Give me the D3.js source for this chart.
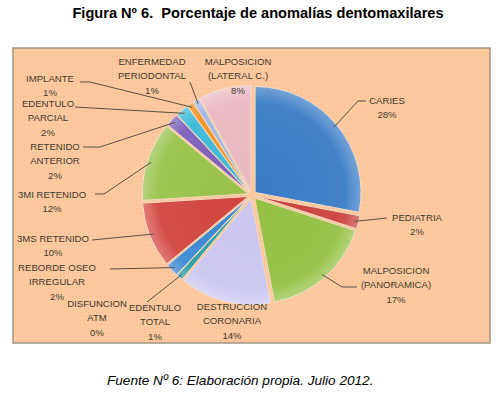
<!DOCTYPE html>
<html><head><meta charset="utf-8">
<script src="https://cdn.jsdelivr.net/npm/d3@7/dist/d3.min.js"></script>
<style>
html,body{margin:0;padding:0;background:#fff;}
svg{display:block;font-family:"Liberation Sans",Arial,sans-serif;}
text{white-space:pre;}
</style></head>
<body>
<script>
// ---- data ----
const categories = [
  ["CARIES"],
  ["PEDIATRIA"],
  ["MALPOSICION","(PANORAMICA)"],
  ["DESTRUCCION","CORONARIA"],
  ["EDENTULO","TOTAL"],
  ["DISFUNCION","ATM"],
  ["REBORDE OSEO","IRREGULAR"],
  ["3MS RETENIDO"],
  ["3MI RETENIDO"],
  ["RETENIDO","ANTERIOR"],
  ["EDENTULO","PARCIAL"],
  ["IMPLANTE"],
  ["ENFERMEDAD","PERIODONTAL"],
  ["MALPOSICION","(LATERAL C.)"]
];
const values = [28, 2, 17, 14, 1, 0, 2, 10, 12, 2, 2, 1, 1, 8];
const percentLabels = ["28%","2%","17%","14%","1%","0%","2%","10%","12%","2%","2%","1%","1%","8%"];
const colors = ["#3a7cc6","#c9433d","#93c043","#cac6f0","#2b9ea8","#4f81bd","#3a88d2","#d2453f","#97c24a","#7b5fba","#3cbad9","#f39220","#9fb8e2","#eab9c2"];

// ---- layout (label anchors & leader ends) ----
const labelLayout = [
  {x:387,y:100, line:[[358,101],[366,101]]},
  {x:417,y:217, line:[[387,218]]},
  {x:396,y:270, line:[[342,287],[357,287]]},
  {x:232,y:306, line:null},
  {x:155,y:307, line:[[147,302]]},
  {x:97, y:303, line:null},
  {x:57, y:267, line:[[110,269]]},
  {x:53, y:238, line:[[92,240]]},
  {x:52, y:194, line:[[104,194],[95,194]]},
  {x:55, y:146, line:[[100,147],[83,147]]},
  {x:48, y:103, line:[[75,107]]},
  {x:50, y:78,  line:[[90,82],[80,82]]},
  {x:152,y:61,  line:[[190,82]]},
  {x:238,y:61,  line:null}
];

const W = 503, H = 395;
const svg = d3.select("body").append("svg").attr("width", W).attr("height", H);

// title
svg.append("text").attr("x", 258).attr("y", 18).attr("text-anchor","middle")
  .attr("font-weight","bold").attr("font-size", 14.6).attr("fill","#000")
  .text("Figura Nº 6.  Porcentaje de anomalías dentomaxilares");

// chart area
const defs = svg.append("defs");
const pat = defs.append("pattern").attr("id","dots").attr("width",4).attr("height",4).attr("patternUnits","userSpaceOnUse");
pat.append("rect").attr("width",4).attr("height",4).attr("fill","#fdc99c");
pat.append("rect").attr("x",0).attr("y",0).attr("width",1).attr("height",1).attr("fill","#f4b8a8");
pat.append("rect").attr("x",2).attr("y",2).attr("width",1).attr("height",1).attr("fill","#f9d0a0");
svg.append("rect").attr("x",13).attr("y",48).attr("width",477).attr("height",295)
  .attr("fill","url(#dots)").attr("stroke","#a39483").attr("stroke-width",1.5);

// pie
const cx = 252, cy = 195, R = 106, explode = 4;
const pie = d3.pie().sort(null).value(d => d)(values);
const arc = d3.arc().innerRadius(0).outerRadius(R);
const g = svg.append("g").attr("transform", `translate(${cx},${cy})`);

// radial shading gradient
const rg = defs.append("radialGradient").attr("id","shade").attr("gradientUnits","userSpaceOnUse")
  .attr("cx",0).attr("cy",0).attr("r",R);
rg.append("stop").attr("offset","0%").attr("stop-color","#fff").attr("stop-opacity",0);
rg.append("stop").attr("offset","85%").attr("stop-color","#fff").attr("stop-opacity",0.05);
rg.append("stop").attr("offset","100%").attr("stop-color","#fff").attr("stop-opacity",0.3);

const slices = g.selectAll("g.slice").data(pie).enter().append("g")
  .attr("transform", d => {
    const a = (d.startAngle + d.endAngle)/2;
    return `translate(${explode*Math.sin(a)},${-explode*Math.cos(a)})`;
  });
slices.append("path").attr("d", arc).attr("fill", (d,i) => colors[i])
  .attr("stroke","#f3d9c0").attr("stroke-width",1);
slices.append("path").attr("d", arc).attr("fill","url(#shade)");

// leader lines
pie.forEach((d,i) => {
  const L = labelLayout[i];
  if (!L.line || d.value === 0) return;
  const a = (d.startAngle + d.endAngle)/2;
  const r0 = R - 4 + explode;
  const start = [cx + r0*Math.sin(a), cy - r0*Math.cos(a)];
  const pts = [start].concat(L.line);
  svg.append("path").attr("d", d3.line()(pts)).attr("fill","none")
    .attr("stroke","#5a5048").attr("stroke-width",1);
});

// labels
categories.forEach((lines, i) => {
  const L = labelLayout[i];
  const t = svg.append("text").attr("text-anchor","middle").attr("font-size",9.6).attr("fill","#3f3a30");
  lines.concat([percentLabels[i]]).forEach((s, k) => {
    t.append("tspan").attr("x", L.x).attr("y", L.y + 3.5 + k*14.5).text(s);
  });
});

// footer
svg.append("text").attr("x", 107).attr("y", 385).attr("font-style","italic")
  .attr("font-size", 13.6).attr("fill","#000")
  .text("Fuente Nº 6: Elaboración propia. Julio 2012.");
</script>
</body></html>
